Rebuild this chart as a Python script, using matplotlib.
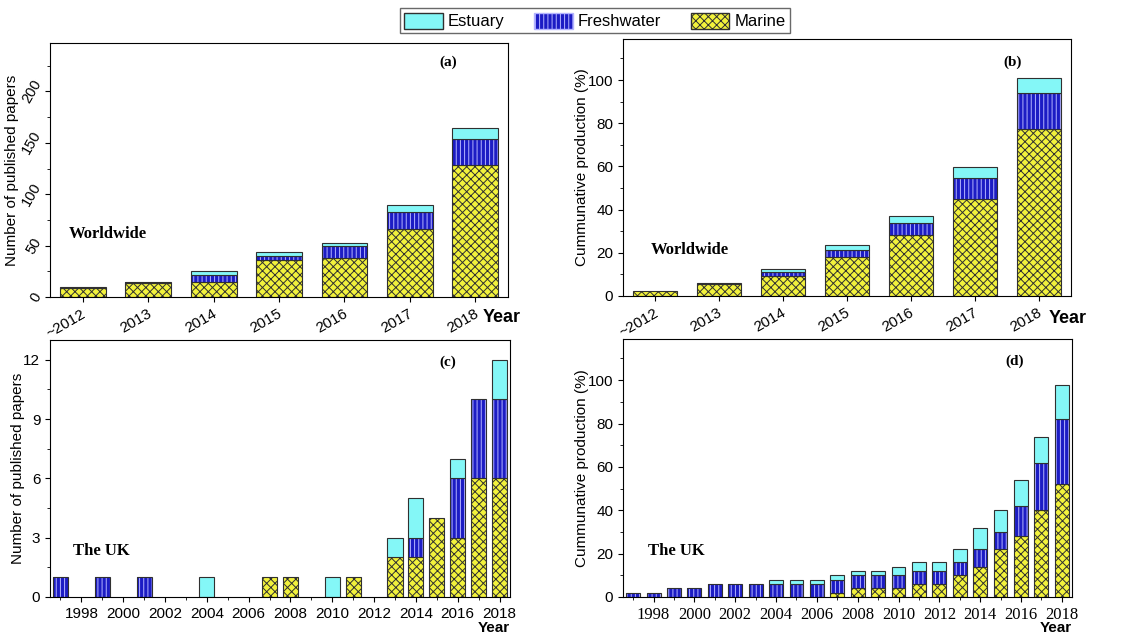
import matplotlib
matplotlib.use('Agg')
import matplotlib.pyplot as plt
from matplotlib.patches import Patch
from matplotlib.transforms import ScaledTranslation
import numpy as np

plt.rcParams['font.family'] = ['Liberation Sans', 'DejaVu Sans']
plt.rcParams['hatch.linewidth'] = 0.7

# Worldwide (a): number of papers per year
ww_years = ['~2012', '2013', '2014', '2015', '2016', '2017', '2018']
ww_marine = [9, 14, 15, 36, 38, 66, 128]
ww_fresh = [1, 1, 6, 4, 12, 17, 26]
ww_estuary = [0, 0, 4, 4, 3, 7, 10]

# Worldwide (b): cumulative production (%)
wwc_marine = [2.5, 5.4, 9.1, 18.1, 28.1, 45.1, 77.3]
wwc_fresh = [0, 0.8, 1.9, 3.1, 5.6, 9.6, 16.5]
wwc_estuary = [0, 0, 1.5, 2.6, 3.4, 5.0, 7.2]

# UK (c): number of papers per year
uk_years = list(range(1997, 2019))
uk_marine = [0, 0, 0, 0, 0, 0, 0, 0, 0, 0, 1, 1, 0, 0, 1, 0, 2, 2, 4, 3, 6, 6]
uk_fresh = [1, 0, 1, 0, 1, 0, 0, 0, 0, 0, 0, 0, 0, 0, 0, 0, 0, 1, 0, 3, 4, 4]
uk_estuary = [0, 0, 0, 0, 0, 0, 0, 1, 0, 0, 0, 0, 0, 1, 0, 0, 1, 2, 0, 1, 0, 2]

# UK (d): cumulative production (%)
ukc_marine = [0, 0, 0, 0, 0, 0, 0, 0, 0, 0, 2, 4, 4, 4, 6, 6, 10, 14, 22, 28, 40, 52]
ukc_fresh = [2, 2, 4, 4, 6, 6, 6, 6, 6, 6, 6, 6, 6, 6, 6, 6, 6, 8, 8, 14, 22, 30]
ukc_estuary = [0, 0, 0, 0, 0, 0, 0, 2, 2, 2, 2, 2, 2, 4, 4, 4, 6, 10, 10, 12, 12, 16]

c_est = '#84f7f7'
c_fresh = '#1c1cc4'
c_fresh_hatch = '#b4b4ff'
c_mar = '#f2f23c'
edge = '#303030'


def stack(ax, x, marine, fresh, estuary, width):
    x = np.asarray(x)
    marine = np.array(marine, float)
    fresh = np.array(fresh, float)
    estuary = np.array(estuary, float)
    m = marine > 0
    ax.bar(x[m], marine[m], width, color=c_mar, edgecolor=edge,
           hatch='xxxx', linewidth=0.8)
    f = fresh > 0
    ax.bar(x[f], fresh[f], width, bottom=marine[f], color=c_fresh,
           edgecolor=c_fresh_hatch, hatch='||||', linewidth=0)
    ax.bar(x[f], fresh[f], width, bottom=marine[f], fill=False,
           edgecolor=edge, linewidth=0.8)
    e = estuary > 0
    ax.bar(x[e], estuary[e], width, bottom=(marine + fresh)[e],
           color=c_est, edgecolor=edge, linewidth=0.8)


def shift_xlabels(ax, dx_pt):
    # nudge rotated year labels a little to the right
    off = ScaledTranslation(dx_pt / 72, 0, fig.dpi_scale_trans)
    for lab in ax.get_xticklabels():
        lab.set_transform(lab.get_transform() + off)


fig = plt.figure(figsize=(11.29, 6.33), dpi=100)

serif_bold = dict(family=['Liberation Serif', 'DejaVu Serif'], fontweight='bold')

# (a)
ax = fig.add_axes([0.0443, 0.5308, 0.4057, 0.401])
xw = np.arange(len(ww_years))
stack(ax, xw, ww_marine, ww_fresh, ww_estuary, 0.7)
ax.set_xlim(-0.5, 6.5)
ax.set_ylim(0, 247)
ax.set_yticks([0, 50, 100, 150, 200])
ax.set_yticks(np.arange(25, 247, 50), minor=True)
ax.set_yticklabels(['0', '50', '100', '150', '200'], rotation=60, va='center', fontsize=10.5)
ax.set_xticks(xw)
ax.set_xticklabels(ww_years, rotation=30, ha='right', fontsize=11)
shift_xlabels(ax, 4)
ax.set_ylabel('Number of published papers', fontsize=11)
ax.yaxis.set_label_coords(-0.068, 0.5)
ax.tick_params(axis='y', pad=1)
ax.text(0.87, 0.925, '(a)', transform=ax.transAxes, fontsize=11, ha='center', va='center', **serif_bold)
ax.text(0.04, 0.248, 'Worldwide', transform=ax.transAxes, fontsize=12, va='center', **serif_bold)
ax.text(0.945, -0.08, 'Year', transform=ax.transAxes, fontsize=13, fontweight='bold', va='center')

# (b)
ax = fig.add_axes([0.5518, 0.5324, 0.3968, 0.406])
stack(ax, xw, wwc_marine, wwc_fresh, wwc_estuary, 0.7)
ax.set_xlim(-0.5, 6.5)
ax.set_ylim(0, 119)
ax.set_yticks(np.arange(0, 101, 20))
ax.set_yticks(np.arange(10, 119, 20), minor=True)
ax.set_xticks(xw)
ax.set_xticklabels(ww_years, rotation=30, ha='right', fontsize=11)
shift_xlabels(ax, 4)
ax.set_ylabel('Cummunative production (%)', fontsize=11)
ax.yaxis.set_label_coords(-0.075, 0.5)
ax.tick_params(axis='y', labelsize=11)
ax.text(0.87, 0.91, '(b)', transform=ax.transAxes, fontsize=11, ha='center', va='center', **serif_bold)
ax.text(0.0625, 0.18, 'Worldwide', transform=ax.transAxes, fontsize=12, va='center', **serif_bold)
ax.text(0.951, -0.086, 'Year', transform=ax.transAxes, fontsize=13, fontweight='bold', va='center')

# (c)
ax = fig.add_axes([0.0443, 0.0569, 0.4074, 0.406])
stack(ax, uk_years, uk_marine, uk_fresh, uk_estuary, 0.72)
ax.set_xlim(1996.5, 2018.5)
ax.set_ylim(0, 13)
ax.set_yticks([0, 3, 6, 9, 12])
ax.set_yticks(np.arange(1.5, 13, 3), minor=True)
ax.set_xticks(range(1998, 2019, 2))
ax.set_xticks(range(1997, 2019, 2), minor=True)
ax.set_ylabel('Number of published papers', fontsize=11)
ax.yaxis.set_label_coords(-0.055, 0.5)
ax.tick_params(labelsize=11)
ax.text(0.865, 0.914, '(c)', transform=ax.transAxes, fontsize=11, ha='center', va='center', **serif_bold)
ax.text(0.05, 0.18, 'The UK', transform=ax.transAxes, fontsize=12, va='center', **serif_bold)
ax.text(1.0, -0.092, 'Year', transform=ax.transAxes, fontsize=11, fontweight='bold', ha='right', va='top')

# (d)
ax = fig.add_axes([0.5518, 0.0569, 0.3977, 0.4076])
stack(ax, uk_years, ukc_marine, ukc_fresh, ukc_estuary, 0.68)
ax.set_xlim(1996.5, 2018.5)
ax.set_ylim(0, 119)
ax.set_yticks(np.arange(0, 101, 20))
ax.set_yticks(np.arange(10, 119, 20), minor=True)
ax.set_xticks(range(1998, 2019, 2))
ax.set_xticks(range(1997, 2019, 2), minor=True)
ax.set_xticklabels([str(y) for y in range(1998, 2019, 2)],
                   family=['Liberation Serif', 'DejaVu Serif'], fontsize=12)
ax.set_ylabel('Cummunative production (%)', fontsize=11)
ax.yaxis.set_label_coords(-0.075, 0.5)
ax.tick_params(axis='y', labelsize=11)
ax.text(0.873, 0.914, '(d)', transform=ax.transAxes, fontsize=11, ha='center', va='center', **serif_bold)
ax.text(0.056, 0.18, 'The UK', transform=ax.transAxes, fontsize=12, va='center', **serif_bold)
ax.text(1.0, -0.092, 'Year', transform=ax.transAxes, fontsize=11, fontweight='bold', ha='right', va='top')

handles = [Patch(facecolor=c_est, edgecolor=edge, label='Estuary'),
           Patch(facecolor=c_fresh, edgecolor=c_fresh_hatch, hatch='||||', label='Freshwater'),
           Patch(facecolor=c_mar, edgecolor=edge, hatch='xxxx', label='Marine')]
leg = fig.legend(handles=handles, loc='center', bbox_to_anchor=(0.527, 0.967), ncol=3,
                 fontsize=12, frameon=True, fancybox=False, handlelength=2.3,
                 handleheight=1.1, handletextpad=0.3, columnspacing=1.8, borderpad=0.25)
leg.get_frame().set_edgecolor('#444444')
leg.get_frame().set_linewidth(1.0)

fig.savefig('out.png', dpi=100)
